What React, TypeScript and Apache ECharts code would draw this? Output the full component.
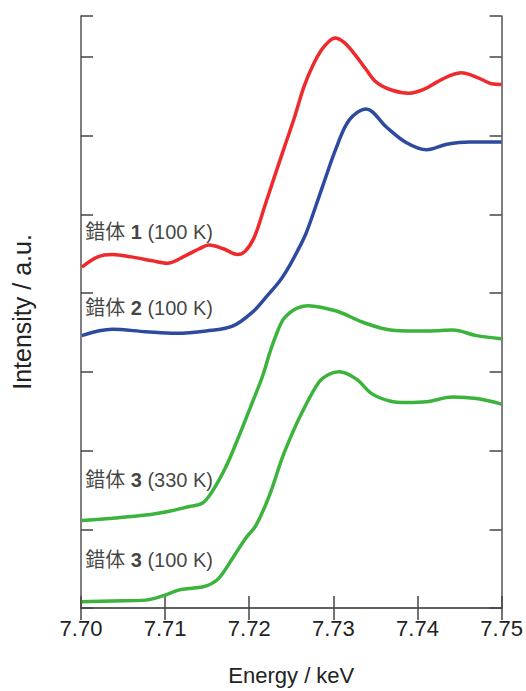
import React, { useEffect, useRef } from "react";
import * as echarts from "echarts";

const xTicks = [7.7, 7.71, 7.72, 7.73, 7.74, 7.75];

const c1Energy = [7.7001, 7.702, 7.7037, 7.706, 7.7085, 7.7102, 7.7125, 7.714, 7.7152, 7.717, 7.7186, 7.7195, 7.7206, 7.7218, 7.723, 7.7242, 7.7254, 7.7265, 7.7276, 7.7286, 7.7295, 7.7302, 7.7312, 7.7325, 7.7339, 7.7351, 7.7369, 7.739, 7.7408, 7.7423, 7.7438, 7.7452, 7.7464, 7.7477, 7.7488, 7.75];
const c1Intensity = [4.33, 4.46, 4.49, 4.46, 4.41, 4.38, 4.48, 4.56, 4.61, 4.56, 4.49, 4.53, 4.71, 5.09, 5.48, 5.86, 6.24, 6.62, 6.9, 7.09, 7.2, 7.24, 7.19, 7.04, 6.84, 6.68, 6.58, 6.54, 6.59, 6.68, 6.76, 6.8, 6.77, 6.71, 6.66, 6.65];

const c2Energy = [7.7001, 7.7037, 7.7077, 7.7113, 7.7149, 7.718, 7.7204, 7.722, 7.7236, 7.7248, 7.726, 7.7268, 7.7287, 7.7304, 7.7319, 7.7339, 7.7363, 7.7387, 7.7411, 7.7435, 7.7462, 7.75];
const c2Intensity = [3.46, 3.54, 3.51, 3.49, 3.52, 3.58, 3.76, 3.95, 4.15, 4.35, 4.59, 4.77, 5.35, 5.86, 6.2, 6.34, 6.11, 5.91, 5.82, 5.89, 5.92, 5.92];

const c3hEnergy = [7.7001, 7.7037, 7.7077, 7.7105, 7.7129, 7.7144, 7.7156, 7.7173, 7.7188, 7.7204, 7.7216, 7.7224, 7.7232, 7.724, 7.7248, 7.7257, 7.727, 7.7285, 7.7307, 7.7335, 7.7363, 7.7387, 7.7414, 7.7442, 7.747, 7.75];
const c3hIntensity = [1.11, 1.14, 1.18, 1.23, 1.29, 1.33, 1.48, 1.81, 2.19, 2.62, 2.95, 3.23, 3.47, 3.66, 3.75, 3.81, 3.84, 3.82, 3.76, 3.63, 3.54, 3.52, 3.52, 3.53, 3.46, 3.42];

const c3lEnergy = [7.7001, 7.7037, 7.7077, 7.7096, 7.7117, 7.7132, 7.7149, 7.7164, 7.718, 7.7196, 7.7208, 7.7224, 7.7239, 7.725, 7.7263, 7.7283, 7.7295, 7.7307, 7.7327, 7.7346, 7.7367, 7.7387, 7.7411, 7.7442, 7.747, 7.75];
const c3lIntensity = [0.08, 0.09, 0.1, 0.15, 0.23, 0.25, 0.28, 0.38, 0.63, 0.89, 1.05, 1.43, 1.9, 2.19, 2.49, 2.87, 2.97, 3.0, 2.91, 2.72, 2.63, 2.61, 2.62, 2.68, 2.66, 2.59];

const labelNames = ["1", "2", "3", "3"];
const labelTemps = ["100 K", "100 K", "330 K", "100 K"];
const labelEnergy = [7.7005, 7.7005, 7.7005, 7.7005];
const labelIntensity = [4.78, 3.81, 1.62, 0.61];

const zip = (xs: number[], ys: number[]) => xs.map((x, i) => [x, ys[i]]);

export default function App() {
  const ref = useRef<HTMLDivElement>(null);
  useEffect(() => {
    document.body.style.margin = "0";
    const chart = echarts.init(ref.current!, undefined, { renderer: "svg" });
    const latin = "'Liberation Sans', Arial, 'Noto Sans CJK JP', sans-serif";
    const axisLine = { show: true, lineStyle: { color: "#555", width: 1.5 } };
    const tick = { show: true, inside: true, length: 12, lineStyle: { color: "#444", width: 1.5 } };
    const lineSeries = (data: number[][], color: string) => ({
      type: "line",
      data,
      smooth: 0.35,
      showSymbol: false,
      symbol: "none",
      lineStyle: { color, width: 3.5 },
      xAxisIndex: 0,
      yAxisIndex: 0,
    });
    chart.setOption({
      animation: false,
      backgroundColor: "#fff",
      grid: { left: 81, right: 24, top: 16, bottom: 81 },
      xAxis: [
        {
          type: "value",
          position: "bottom",
          min: xTicks[0],
          max: xTicks[xTicks.length - 1],
          interval: 0.01,
          axisLine,
          axisTick: tick,
          splitLine: { show: false },
          axisLabel: {
            formatter: (v: number) => v.toFixed(2),
            fontFamily: latin,
            fontSize: 22,
            color: "#222",
            margin: 9,
          },
          name: "Energy / keV",
          nameLocation: "middle",
          nameGap: 56,
          nameTextStyle: { fontFamily: latin, fontSize: 22, color: "#222" },
        },
        {
          type: "value",
          position: "top",
          min: xTicks[0],
          max: xTicks[xTicks.length - 1],
          interval: 0.01,
          axisLine,
          axisTick: tick,
          splitLine: { show: false },
          axisLabel: { show: false },
        },
      ],
      yAxis: [
        {
          type: "value",
          position: "left",
          min: 0,
          max: 7.52,
          interval: 1,
          axisLine,
          axisTick: tick,
          splitLine: { show: false },
          axisLabel: { show: false },
          name: "Intensity / a.u.",
          nameLocation: "middle",
          nameGap: 47,
          nameTextStyle: { fontFamily: latin, fontSize: 25, color: "#222" },
        },
        {
          type: "value",
          position: "right",
          min: 0,
          max: 7.52,
          interval: 1,
          axisLine,
          axisTick: tick,
          splitLine: { show: false },
          axisLabel: { show: false },
        },
      ],
      series: [
        lineSeries(zip(c1Energy, c1Intensity), "#ee2a2c"),
        lineSeries(zip(c2Energy, c2Intensity), "#2e4a9e"),
        lineSeries(zip(c3hEnergy, c3hIntensity), "#3bb33c"),
        lineSeries(zip(c3lEnergy, c3lIntensity), "#3bb33c"),
        {
          type: "scatter",
          symbolSize: 0,
          data: labelEnergy.map((e, i) => ({
            value: [e, labelIntensity[i]],
            label: {
              formatter: `{a|錯体 }{b|${labelNames[i]}}{a| (${labelTemps[i]})}`,
            },
          })),
          label: {
            show: true,
            position: "right",
            distance: 0,
            rich: {
              a: { fontFamily: "'Liberation Sans', 'Noto Sans CJK JP', sans-serif", fontSize: 20, color: "#111" },
              b: { fontFamily: "'Liberation Sans', sans-serif", fontSize: 20, fontWeight: "bold", color: "#111" },
            },
          },
        },
      ],
    });
    return () => chart.dispose();
  }, []);
  return <div ref={ref} style={{ width: 526, height: 691 }} />;
}
